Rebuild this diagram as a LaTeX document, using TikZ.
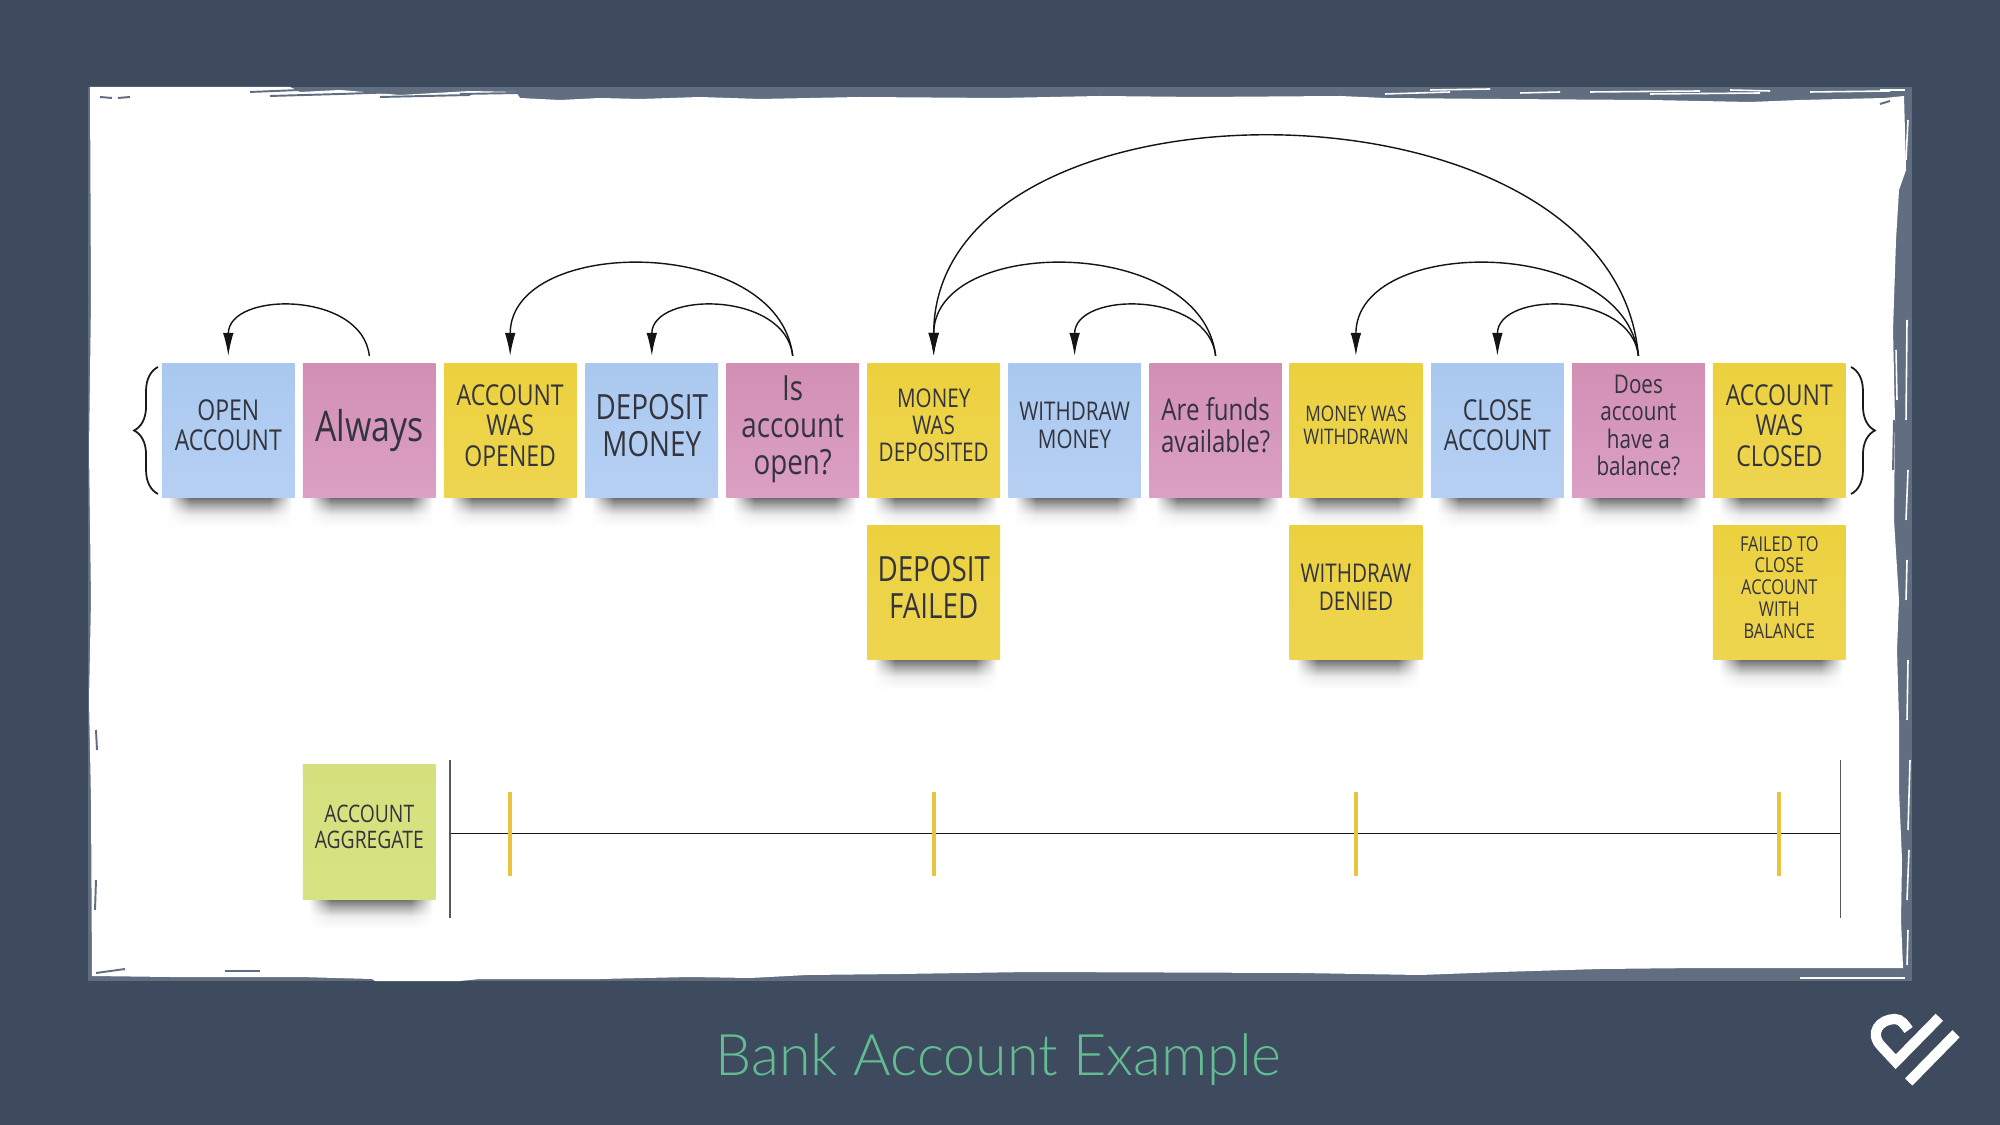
\documentclass[tikz,border=0pt]{standalone}
\usepackage{fontspec}
\setmainfont[FakeStretch=0.8]{Open Sans}
\newfontfamily\titlefont{Lato Light}
\usetikzlibrary{calc, arrows.meta, backgrounds, fadings, decorations.pathreplacing}

\definecolor{slate}{HTML}{3E4B5E}
\definecolor{framegray}{HTML}{616D80}
\definecolor{inkdark}{HTML}{33343E}
\definecolor{titlegreen}{HTML}{62BD92}
\definecolor{bluetop}{HTML}{AAC8EF}
\definecolor{bluelow}{HTML}{B6D0F3}
\definecolor{pinktop}{HTML}{D28FB4}
\definecolor{pinklow}{HTML}{DBA0C4}
\definecolor{yellowtop}{HTML}{ECD13E}
\definecolor{yellowlow}{HTML}{EED550}
\definecolor{greentop}{HTML}{D5E07D}
\definecolor{greenlow}{HTML}{D7E282}
\definecolor{tickyellow}{HTML}{E9C43C}
\newcommand{\notesize}[1]{\fontsize{\fpeval{#1*0.94}}{#1}\selectfont}
\pgfdeclarehorizontalshading{sideends}{100bp}{color(0bp)=(pgftransparent!100); color(25bp)=(pgftransparent!100); color(34bp)=(pgftransparent!0); color(66bp)=(pgftransparent!0); color(75bp)=(pgftransparent!100); color(100bp)=(pgftransparent!100)}
\pgfdeclarefading{softends}{\pgfuseshading{sideends}}
\pgfdeclareverticalshading{noteshadow}{100bp}{color(0bp)=(white); color(25bp)=(white); color(45bp)=(black!7); color(60bp)=(black!32); color(75bp)=(black!62); color(100bp)=(black!62)}

\tikzset{
	note/.style={minimum width=1.326cm, minimum height=1.34cm, inner sep=0pt, outer xsep=0pt, outer ysep=0.076cm, align=center, text=inkdark, text depth=3pt},
	cmd/.style={note, top color=bluetop, bottom color=bluelow},
	policy/.style={note, top color=pinktop, bottom color=pinklow},
	event/.style={note, top color=yellowtop, bottom color=yellowlow},
	aggr/.style={note, top color=greentop, bottom color=greenlow},
	backarc/.style={-{Latex[length=6.5pt,width=3pt]}, line width=0.4pt, black!92},
	bracket/.style={decorate, decoration={brace,amplitude=6.8pt}, line width=0.5pt, black!90},
	scratch/.style={line width=0.45pt, white},
	nick/.style={line width=0.55pt, framegray},
	tick/.style={line width=1.1pt, tickyellow}
}

\begin{document}
\begin{tikzpicture}[x=0.01cm, y=-0.01cm]
	\useasboundingbox (0,0) rectangle (2000,1125);
	\begin{scope}[on background layer]
	\fill[slate] (0,0) rectangle (2000,1125);
	\fill[framegray] (88,87) rectangle (1912,981);
	% the rough white sheet
	\fill[white] (90,87) -- (245,87) -- (290,87) -- (300,92) -- (340,90) -- (400,95) -- (470,91) -- (516,92) -- (520,98) -- (560,100) -- (600,98) -- (640,99) -- (700,97) -- (760,99) -- (860,97) -- (1000,98)
		-- (1100,96) -- (1200,97) -- (1340,96) -- (1385,98) -- (1500,99) -- (1650,100) -- (1750,102) -- (1800,100) -- (1885,98) -- (1904,96)
		-- (1906,170) -- (1899,190) -- (1896,240) -- (1893,330) -- (1895,420) -- (1894,520) -- (1899,600) -- (1897,650) -- (1899,720) -- (1899,790) -- (1902,860) -- (1901,920) -- (1903,968)
		-- (1700,968) -- (1600,969) -- (1500,972) -- (1420,975) -- (1300,973) -- (1030,972) -- (900,974) -- (807,975) -- (750,978) -- (690,977) -- (600,979) -- (480,979) -- (460,981) -- (375,981) -- (372,979) -- (300,977) -- (170,977) -- (92,976)
		-- (91,800) -- (89,700) -- (91,600) -- (89,450) -- (91,300) -- cycle;
	\foreach \xa/\ya/\xb/\yb in {1385/94/1450/92, 1430/90/1490/89, 1520/93/1560/92, 1590/92/1700/91, 1650/94/1760/93, 1730/90/1770/91, 1810/92/1890/91, 1880/90/1905/90, 1902/110/1900/170, 1908/120/1906/160, 1907/320/1906/420, 1908/470/1906/520, 1907/560/1906/600, 1908/660/1907/720, 1910/760/1908/830, 1909/850/1907/900, 1908/930/1907/965, 1800/978/1905/978, 1896/350/1897/400}
		\draw[scratch] (\xa,\ya) -- (\xb,\yb);
	\foreach \xa/\ya/\xb/\yb in {100/97/112/98, 118/98/130/97, 96/973/125/969, 225/971/260/971, 96/730/97/750, 96/880/95/910, 1880/104/1890/101, 1894/420/1893/470, 250/92/300/90, 270/96/340/94, 300/89/420/89, 340/94/400/92, 380/97/470/95, 420/90/516/90, 460/94/520/93}
		\draw[nick] (\xa,\ya) -- (\xb,\yb);
	\end{scope}

	% commands, policies and events
	\node[cmd, font=\notesize{8.7}] (open) at (228.3,430.5) {OPEN\\ACCOUNT};
	\node[policy, font=\notesize{12.8}] (always) at (369.3,430.5) {Always};
	\node[event, font=\notesize{8.7}] (opened) at (510.2,430.5) {ACCOUNT\\WAS\\OPENED};
	\node[cmd, font=\notesize{10.5}] (deposit) at (651.8,430.5) {DEPOSIT\\MONEY};
	\node[policy, font=\notesize{10.5}] (isopen) at (792.7,430.5) {Is\\account\\open?};
	\node[event, font=\notesize{7.8}] (deposited) at (933.7,430.5) {MONEY\\WAS\\DEPOSITED};
	\node[cmd, font=\notesize{7.8}] (withdraw) at (1074.6,430.5) {WITHDRAW\\MONEY};
	\node[policy, font=\notesize{9.1}] (funds) at (1215.6,430.5) {Are funds\\available?};
	\node[event, font=\notesize{6.5}] (withdrawn) at (1355.9,430.5) {MONEY WAS\\WITHDRAWN};
	\node[cmd, font=\notesize{8.7}] (close) at (1497.4,430.5) {CLOSE\\ACCOUNT};
	\node[policy, font=\notesize{7.8}] (balance) at (1638.4,430.5) {Does\\account\\have a\\balance?};
	\node[event, font=\notesize{8.7}] (closed) at (1779.3,430.5) {ACCOUNT\\WAS\\CLOSED};

	\node[event, font=\notesize{10.5}] (depositfailed) at (933.7,592.5) {DEPOSIT\\FAILED};
	\node[event, font=\notesize{7.8}] (withdrawdenied) at (1355.9,592.5) {WITHDRAW\\DENIED};
	\node[event, font=\notesize{6.2}] (failedclose) at (1779.3,592.5) {FAILED TO\\CLOSE\\ACCOUNT\\WITH\\BALANCE};
	\node[aggr, font=\notesize{7.3}] (aggregate) at (369.3,832) {ACCOUNT\\AGGREGATE};

	\begin{scope}[on background layer]
	\foreach \n in {open,always,opened,deposit,isopen,deposited,withdraw,funds,withdrawn,close,balance,closed,depositfailed,withdrawdenied,failedclose,aggregate}
		\shade[shading=noteshadow, path fading=softends] ($(\n.south west)+(6,-9)$) rectangle ($(\n.south east)+(-3,22)$);
	\end{scope}

	% curved arrows back to the earlier notes
	\draw[backarc] (always.north) .. controls +(-7,-65) and +(0,-65) .. (open.north);
	\draw[backarc] (isopen.north) .. controls +(-7,-65) and +(0,-65) .. (deposit.north);
	\draw[backarc] (isopen.north) .. controls +(-14,-121) and +(0,-121) .. (opened.north);
	\draw[backarc] (funds.north) .. controls +(-7,-65) and +(0,-65) .. (withdraw.north);
	\draw[backarc] (funds.north) .. controls +(-14,-121) and +(0,-121) .. (deposited.north);
	\draw[backarc] (balance.north) .. controls +(-7,-65) and +(0,-65) .. (close.north);
	\draw[backarc] (balance.north) .. controls +(-14,-121) and +(0,-121) .. (withdrawn.north);
	\draw[backarc] (balance.north) .. controls +(-25,-291) and +(0,-291) .. (deposited.north);

	\draw[bracket] (158,494) -- (158,367);
	\draw[bracket] (1851,367) -- (1851,494);

	% time line
	\draw[line width=0.45pt, black!90] (450,833.5) -- (1840.5,833.5);
	\draw[line width=0.4pt, black!65] (450,760) -- (450,918);
	\draw[line width=0.4pt, black!65] (1840.5,760) -- (1840.5,918);
	\draw[tick] (opened |- 0,792) -- (opened |- 0,876);
	\draw[tick] (deposited |- 0,792) -- (deposited |- 0,876);
	\draw[tick] (withdrawn |- 0,792) -- (withdrawn |- 0,876);
	\draw[tick] (closed |- 0,792) -- (closed |- 0,876);

	\node[text=titlegreen, font=\titlefont\fontsize{16.3}{16.3}\selectfont] (title) at (998.7,1060) {Bank Account Example};

	% logo
	\draw[white, line width=2.9pt, miter limit=4] (1939.3,1017.3) -- (1895.7,1061.7) -- (1882,1047) .. controls (1868,1033) and (1880,1019) .. (1895,1019) .. controls (1901,1019) and (1905,1025) .. (1908.5,1030);
	\draw[white, line width=2.9pt] (1908.7,1082) -- (1956,1033.7);
\end{tikzpicture}
\end{document}
